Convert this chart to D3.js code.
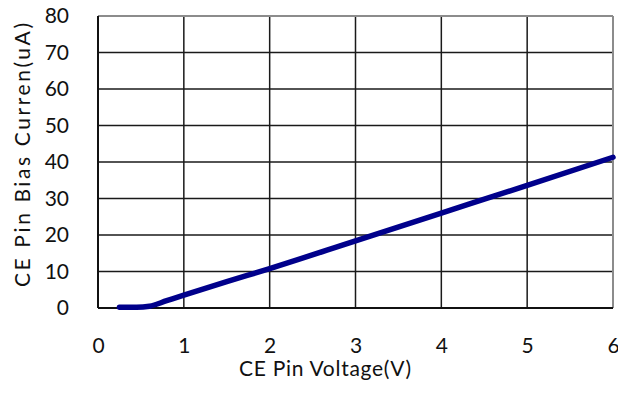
<!DOCTYPE html>
<html>
<head>
<meta charset="utf-8">
<script src="https://cdn.jsdelivr.net/npm/d3@7"></script>
<style>
  body { margin: 0; background: #fff; }
  text { font-family: Lato, "Open Sans", sans-serif; fill: #111; }
</style>
</head>
<body>
<div id="chart"></div>
<script>
// data
var voltage = [0.25, 0.45, 0.6, 0.8, 1.0, 1.5, 2.0, 3.0, 4.0, 5.0, 6.0];
var current = [0.2, 0.2, 0.5, 2.0, 3.5, 7.2, 10.8, 18.4, 26.0, 33.6, 41.3];
var xTicks = [0, 1, 2, 3, 4, 5, 6];
var yTicks = [0, 10, 20, 30, 40, 50, 60, 70, 80];

var svgWidth = 618;
var svgHeight = 394;

var margin = { top: 16, right: 5, bottom: 86, left: 98 };
var width = svgWidth - margin.left - margin.right;
var height = svgHeight - margin.top - margin.bottom;

var svg = d3.select("#chart")
  .append("svg")
  .attr("width", svgWidth)
  .attr("height", svgHeight);

var chartGroup = svg.append("g")
  .attr("transform", `translate(${margin.left}, ${margin.top})`);

var xScale = d3.scaleLinear().domain([0, 6]).range([0, width]);
var yScale = d3.scaleLinear().domain([0, 80]).range([height, 0]);

// grid lines
chartGroup.selectAll(".vgrid")
  .data(xTicks.slice(1, -1))
  .enter()
  .append("line")
  .attr("x1", d => xScale(d)).attr("x2", d => xScale(d))
  .attr("y1", 0).attr("y2", height)
  .attr("stroke", "#1a1a1a").attr("stroke-width", 1.5);

chartGroup.selectAll(".hgrid")
  .data(yTicks.slice(1, -1))
  .enter()
  .append("line")
  .attr("x1", 0).attr("x2", width)
  .attr("y1", d => yScale(d)).attr("y2", d => yScale(d))
  .attr("stroke", "#1a1a1a").attr("stroke-width", 1.5);

// frame: top & right grey, left & bottom black
chartGroup.append("line")
  .attr("x1", 0).attr("x2", width).attr("y1", 0).attr("y2", 0)
  .attr("stroke", "#8c8c8c").attr("stroke-width", 2);
chartGroup.append("line")
  .attr("x1", width).attr("x2", width).attr("y1", 0).attr("y2", height)
  .attr("stroke", "#8c8c8c").attr("stroke-width", 2);
chartGroup.append("line")
  .attr("x1", 0).attr("x2", 0).attr("y1", 0).attr("y2", height)
  .attr("stroke", "#111").attr("stroke-width", 2);
chartGroup.append("line")
  .attr("x1", 0).attr("x2", width).attr("y1", height).attr("y2", height)
  .attr("stroke", "#111").attr("stroke-width", 2);

// axes (labels only)
var bottomAxis = d3.axisBottom(xScale).tickValues(xTicks).tickFormat(d3.format("d"))
  .tickSize(0).tickPadding(30);
var leftAxis = d3.axisLeft(yScale).tickValues(yTicks).tickFormat(d3.format("d"))
  .tickSize(0).tickPadding(29);

var xAxisG = chartGroup.append("g")
  .attr("transform", `translate(0, ${height})`)
  .call(bottomAxis);
var yAxisG = chartGroup.append("g").call(leftAxis);

[xAxisG, yAxisG].forEach(g => {
  g.select(".domain").remove();
  g.selectAll("text").style("font-size", "21px").attr("fill", "#111");
});

// curve
var line = d3.line()
  .x((d, i) => xScale(voltage[i]))
  .y(d => yScale(d))
  .curve(d3.curveMonotoneX);

chartGroup.append("path")
  .datum(current)
  .attr("d", line)
  .attr("fill", "none")
  .attr("stroke", "#00008b")
  .attr("stroke-width", 5.5)
  .attr("stroke-linecap", "round");

// axis titles
svg.append("text")
  .attr("transform", `translate(30, 155) rotate(-90)`)
  .attr("text-anchor", "middle")
  .attr("textLength", 264)
  .attr("lengthAdjust", "spacing")
  .style("font-size", "21px")
  .text("CE Pin Bias Curren(uA)");

svg.append("text")
  .attr("x", 325)
  .attr("y", 376)
  .attr("text-anchor", "middle")
  .attr("textLength", 172)
  .attr("lengthAdjust", "spacing")
  .style("font-size", "21px")
  .text("CE Pin Voltage(V)");
</script>
</body>
</html>
